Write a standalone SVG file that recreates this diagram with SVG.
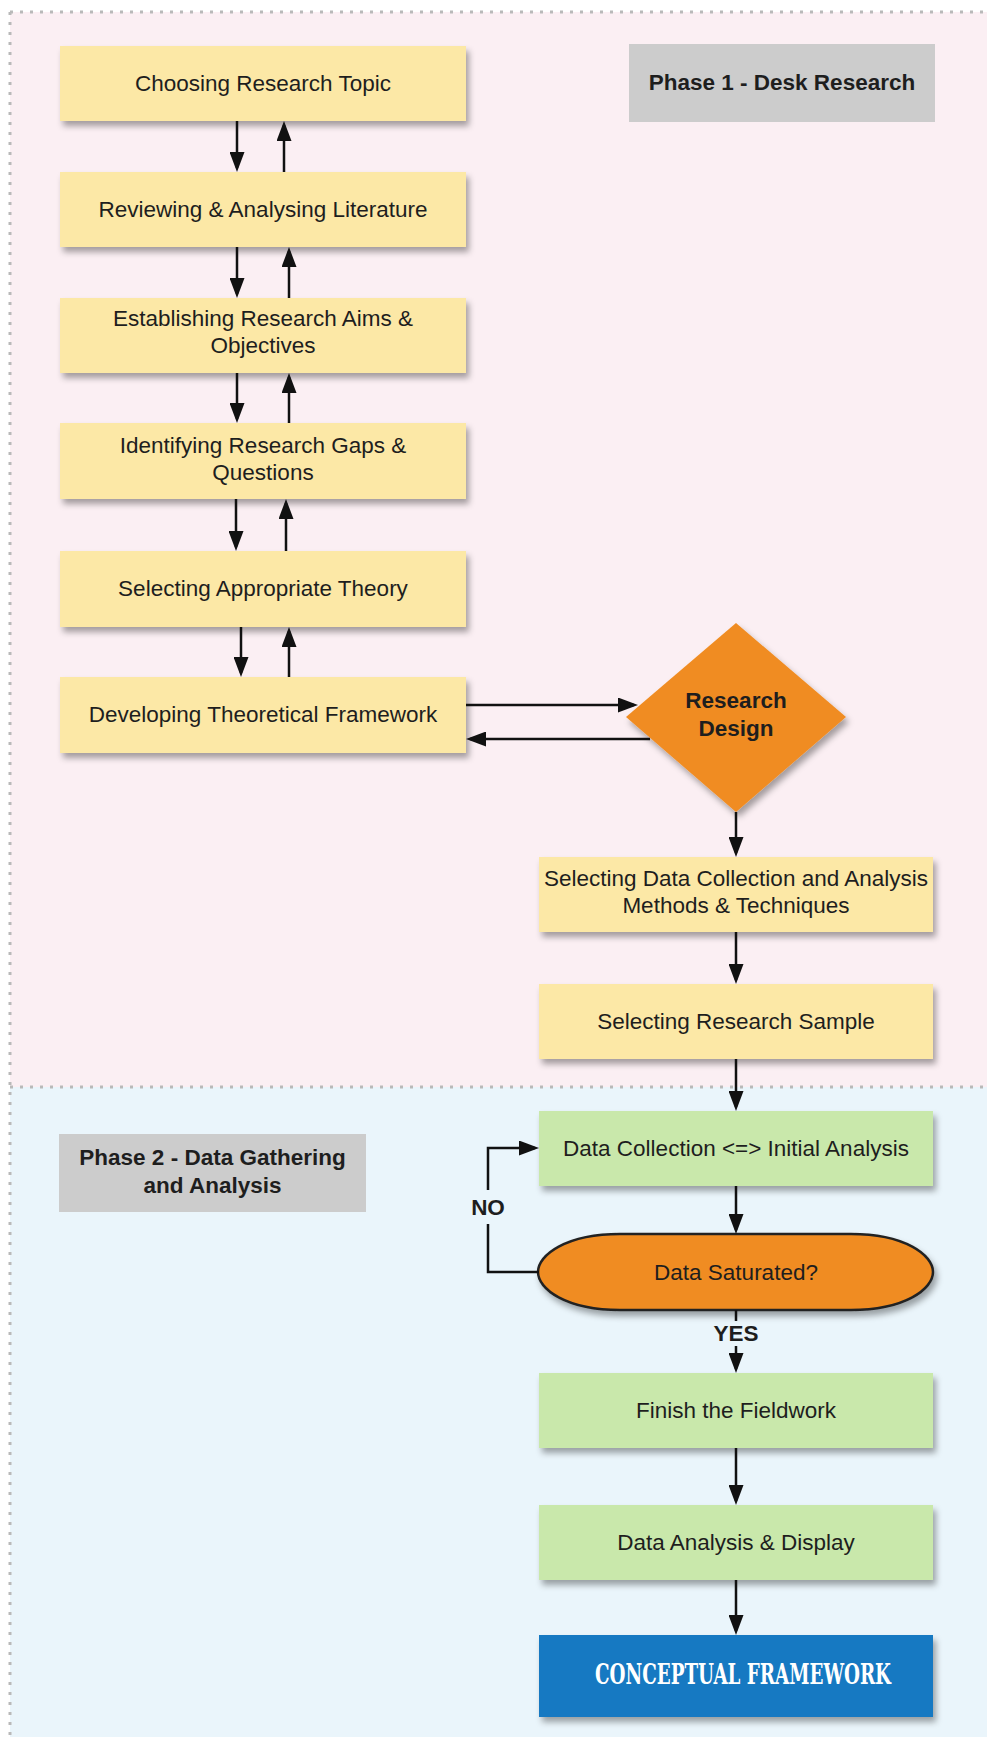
<svg xmlns="http://www.w3.org/2000/svg" width="987" height="1740" viewBox="0 0 987 1740">
  <style>
    .lbl { font-family: "Liberation Sans", Arial, sans-serif; font-size: 22.5px; fill: #1e1e1e; text-anchor: middle; }
    .bold { font-weight: bold; }
    .step { fill: #fce8a6; filter: url(#shadow); }
    .field { fill: #c9e8ab; filter: url(#shadow); }
    .phase { fill: #cccccc; }
    .dots { stroke: #b9b9b9; stroke-width: 3; stroke-dasharray: 3 7; fill: none; }
    .wire { stroke: #111; stroke-width: 2.5; fill: none; }
    .arr { marker-end: url(#head); }
  </style>
  <defs>
    <filter id="shadow" x="-10%" y="-20%" width="130%" height="150%">
      <feDropShadow dx="3" dy="5" stdDeviation="3" flood-color="#000" flood-opacity="0.35"/>
    </filter>
    <marker id="head" viewBox="0 0 20 15" refX="16" refY="7.5" markerWidth="20" markerHeight="15" markerUnits="userSpaceOnUse" orient="auto">
      <path d="M0,0 L20,7.5 L0,15 Z" fill="#111"/>
    </marker>
  </defs>

  <!-- phase backgrounds -->
  <g id="backgrounds">
    <rect x="10" y="12" width="977" height="1075" fill="#fbeff3"/>
    <rect x="10" y="1087" width="977" height="650" fill="#eaf5fb"/>
    <path class="dots" d="M10,12 H987 M10,12 V1737 M10,1087 H987"/>
  </g>

  <!-- phase labels -->
  <g id="phase1">
    <rect class="phase" x="629" y="44" width="306" height="78"/>
    <text class="lbl bold" x="782" y="90">Phase 1 - Desk Research</text>
  </g>
  <g id="phase2">
    <rect class="phase" x="59" y="1134" width="307" height="78"/>
    <text class="lbl bold" x="212.5" y="1165">Phase 2 - Data Gathering</text>
    <text class="lbl bold" x="212.5" y="1193">and Analysis</text>
  </g>

  <!-- desk research steps -->
  <g id="choosing-topic">
    <rect class="step" x="60" y="46" width="406" height="75"/>
    <text class="lbl" x="263" y="91">Choosing Research Topic</text>
  </g>
  <g id="reviewing-literature">
    <rect class="step" x="60" y="172" width="406" height="75"/>
    <text class="lbl" x="263" y="217">Reviewing &amp; Analysing Literature</text>
  </g>
  <g id="aims-objectives">
    <rect class="step" x="60" y="298" width="406" height="75"/>
    <text class="lbl" x="263" y="326">Establishing Research Aims &amp;</text>
    <text class="lbl" x="263" y="353">Objectives</text>
  </g>
  <g id="research-gaps">
    <rect class="step" x="60" y="423" width="406" height="76"/>
    <text class="lbl" x="263" y="453">Identifying Research Gaps &amp;</text>
    <text class="lbl" x="263" y="480">Questions</text>
  </g>
  <g id="appropriate-theory">
    <rect class="step" x="60" y="551" width="406" height="76"/>
    <text class="lbl" x="263" y="596">Selecting Appropriate Theory</text>
  </g>
  <g id="theoretical-framework">
    <rect class="step" x="60" y="677" width="406" height="76"/>
    <text class="lbl" x="263" y="722">Developing Theoretical Framework</text>
  </g>
  <g id="research-design">
    <path d="M736,623 L846,717 L736,812 L626,717 Z" fill="#f08c21" filter="url(#shadow)"/>
    <text class="lbl bold" x="736" y="708">Research</text>
    <text class="lbl bold" x="736" y="736">Design</text>
  </g>
  <g id="methods-techniques">
    <rect class="step" x="539" y="857" width="394" height="75"/>
    <text class="lbl" x="736" y="886">Selecting Data Collection and Analysis</text>
    <text class="lbl" x="736" y="913">Methods &amp; Techniques</text>
  </g>
  <g id="research-sample">
    <rect class="step" x="539" y="984" width="394" height="75"/>
    <text class="lbl" x="736" y="1029">Selecting Research Sample</text>
  </g>

  <!-- data gathering steps -->
  <g id="data-collection">
    <rect class="field" x="539" y="1111" width="394" height="75"/>
    <text class="lbl" x="736" y="1156">Data Collection &lt;=&gt; Initial Analysis</text>
  </g>
  <g id="data-saturated">
    <path d="M620,1234 H851 C905,1234 933,1255 933,1272 C933,1289 905,1310 851,1310 H620 C566,1310 538,1289 538,1272 C538,1255 566,1234 620,1234 Z" fill="#f08c21" stroke="#222" stroke-width="2.5" filter="url(#shadow)"/>
    <text class="lbl" x="736" y="1280">Data Saturated?</text>
  </g>
  <g id="finish-fieldwork">
    <rect class="field" x="539" y="1373" width="394" height="75"/>
    <text class="lbl" x="736" y="1418">Finish the Fieldwork</text>
  </g>
  <g id="analysis-display">
    <rect class="field" x="539" y="1505" width="394" height="75"/>
    <text class="lbl" x="736" y="1550">Data Analysis &amp; Display</text>
  </g>
  <g id="conceptual-framework">
    <rect x="539" y="1635" width="394" height="82" fill="#1779c2" filter="url(#shadow)"/>
    <text x="743" y="1684" text-anchor="middle" font-family="'DejaVu Serif Condensed', 'Liberation Serif', serif" font-weight="bold" font-size="27" fill="#ffffff" textLength="296" lengthAdjust="spacingAndGlyphs">CONCEPTUAL FRAMEWORK</text>
  </g>

  <!-- connectors -->
  <g id="connectors">
    <path class="wire arr" d="M237,121 V168"/>
    <path class="wire arr" d="M284,172 V125"/>
    <path class="wire arr" d="M237,247 V294"/>
    <path class="wire arr" d="M289,298 V251"/>
    <path class="wire arr" d="M237,373 V419"/>
    <path class="wire arr" d="M289,423 V377"/>
    <path class="wire arr" d="M236,499 V547"/>
    <path class="wire arr" d="M286,551 V503"/>
    <path class="wire arr" d="M241,627 V673"/>
    <path class="wire arr" d="M289,677 V631"/>
    <path class="wire arr" d="M466,705 H634"/>
    <path class="wire arr" d="M650,739 H470"/>
    <path class="wire arr" d="M736,812 V853"/>
    <path class="wire arr" d="M736,932 V980"/>
    <path class="wire arr" d="M736,1059 V1107"/>
    <path class="wire arr" d="M736,1186 V1230"/>
    <path class="wire" d="M736,1310 V1321"/>
    <path class="wire arr" d="M736,1346 V1369"/>
    <path class="wire" d="M539,1272 H488 V1224"/>
    <path class="wire arr" d="M488,1190 V1148 H535"/>
    <path class="wire arr" d="M736,1448 V1501"/>
    <path class="wire arr" d="M736,1580 V1631"/>
    <text class="lbl bold" x="488" y="1215" font-size="21">NO</text>
    <text class="lbl bold" x="736" y="1341" font-size="21">YES</text>
  </g>
</svg>
